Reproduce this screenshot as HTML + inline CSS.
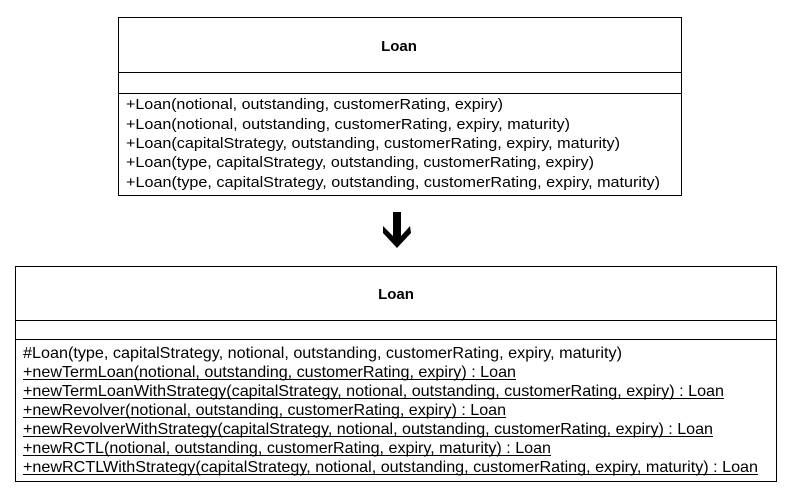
<!DOCTYPE html>
<html><head><style>
html,body{margin:0;padding:0;background:#fff;width:795px;height:500px;overflow:hidden}
svg text{font-family:"Liberation Sans",Arial,sans-serif;font-size:14.5px;fill:#000}
svg text.b{font-size:16px}
svg text.t{font-size:15px;font-weight:bold}
</style></head><body>
<svg width="795" height="500" viewBox="0 0 795 500" xmlns="http://www.w3.org/2000/svg">
<g fill="none" stroke="#000" stroke-width="1">
<rect x="118.5" y="17.5" width="563" height="178"/>
<line x1="118" y1="72.5" x2="682" y2="72.5"/>
<line x1="118" y1="93.5" x2="682" y2="93.5"/>
<rect x="15.5" y="266.5" width="761" height="215"/>
<line x1="15" y1="320.5" x2="777" y2="320.5"/>
<line x1="15" y1="339.5" x2="777" y2="339.5"/>
</g>
<text class="t" x="399" y="51" text-anchor="middle">Loan</text>
<text x="126" y="109" textLength="377" lengthAdjust="spacingAndGlyphs">+Loan(notional, outstanding, customerRating, expiry)</text>
<text x="126" y="129" textLength="444" lengthAdjust="spacingAndGlyphs">+Loan(notional, outstanding, customerRating, expiry, maturity)</text>
<text x="126" y="148" textLength="494" lengthAdjust="spacingAndGlyphs">+Loan(capitalStrategy, outstanding, customerRating, expiry, maturity)</text>
<text x="126" y="167" textLength="468" lengthAdjust="spacingAndGlyphs">+Loan(type, capitalStrategy, outstanding, customerRating, expiry)</text>
<text x="126" y="187" textLength="534" lengthAdjust="spacingAndGlyphs">+Loan(type, capitalStrategy, outstanding, customerRating, expiry, maturity)</text>
<polygon points="393,212 401,212 401,236 410,226 411,233 397,248 383,233 383,226 393,236" fill="#000"/>
<text class="t" x="396" y="299" text-anchor="middle">Loan</text>
<text class="b" x="23" y="358" textLength="599" lengthAdjust="spacingAndGlyphs">#Loan(type, capitalStrategy, notional, outstanding, customerRating, expiry, maturity)</text>
<text class="b" x="23" y="377" textLength="493" lengthAdjust="spacingAndGlyphs">+newTermLoan(notional, outstanding, customerRating, expiry) : Loan</text>
<text class="b" x="23" y="396" textLength="701" lengthAdjust="spacingAndGlyphs">+newTermLoanWithStrategy(capitalStrategy, notional, outstanding, customerRating, expiry) : Loan</text>
<text class="b" x="23" y="415" textLength="483" lengthAdjust="spacingAndGlyphs">+newRevolver(notional, outstanding, customerRating, expiry) : Loan</text>
<text class="b" x="23" y="434" textLength="690" lengthAdjust="spacingAndGlyphs">+newRevolverWithStrategy(capitalStrategy, notional, outstanding, customerRating, expiry) : Loan</text>
<text class="b" x="23" y="453" textLength="528" lengthAdjust="spacingAndGlyphs">+newRCTL(notional, outstanding, customerRating, expiry, maturity) : Loan</text>
<text class="b" x="23" y="472" textLength="735" lengthAdjust="spacingAndGlyphs">+newRCTLWithStrategy(capitalStrategy, notional, outstanding, customerRating, expiry, maturity) : Loan</text>
<g stroke="#000" stroke-width="1">
<line x1="23" y1="379.5" x2="516" y2="379.5"/>
<line x1="23" y1="398.5" x2="724" y2="398.5"/>
<line x1="23" y1="417.5" x2="506" y2="417.5"/>
<line x1="23" y1="436.5" x2="713" y2="436.5"/>
<line x1="23" y1="455.5" x2="551" y2="455.5"/>
<line x1="23" y1="474.5" x2="758" y2="474.5"/>
</g>
</svg>
</body></html>
